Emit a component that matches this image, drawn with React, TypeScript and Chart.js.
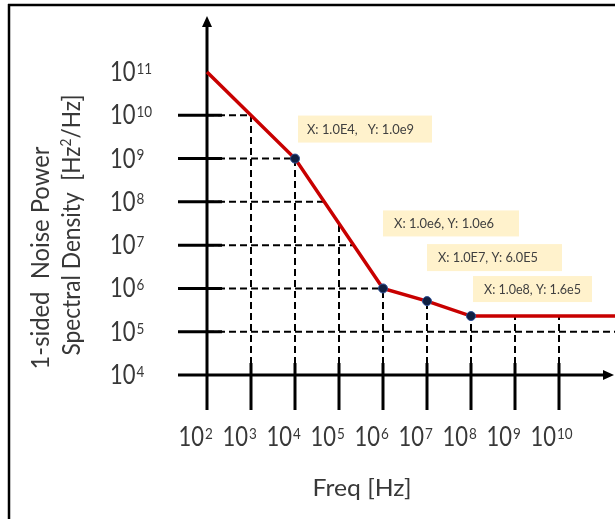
import React, { useEffect, useRef } from "react";
import { Chart, registerables } from "chart.js";

Chart.register(...registerables);

// ---------- data ----------
const freqHz = [1e2, 1e4, 1e6, 1e7, 1e8, 1e12];
const noisePsd = [1e11, 1e9, 1e6, 5.1e5, 2.3e5, 2.3e5];
const markerShown = [false, true, true, true, true, false];

const xTickExponents = [2, 3, 4, 5, 6, 7, 8, 9, 10];
const yTickExponents = [4, 5, 6, 7, 8, 9, 10, 11];
const xGridExponents = [3, 4, 5, 6, 7, 8, 9, 10];
const yGridExponents = [5, 6, 7, 8, 9, 10];

const annotationTexts = [
  "X: 1.0E4,   Y: 1.0e9",
  "X: 1.0e6, Y: 1.0e6",
  "X: 1.0E7, Y: 6.0E5",
  "X: 1.0e8, Y: 1.6e5",
];
const annotationPointIndex = [1, 2, 3, 4];

const yTitleLine1 = "1-sided  Noise Power";
const yTitleLine2Pre = "Spectral Density  [Hz";
const yTitleLine2Sup = "2";
const yTitleLine2Post = "/Hz]";
const xTitle = "Freq [Hz]";

// ---------- layout / style (pixels) ----------
const W = 615;
const H = 519;
const FONT = "Lato, 'Open Sans', sans-serif";
const TEXT_COLOR = "#383838";
const ANN_BOX = [
  { dx: 3, dy: -43, w: 134, h: 27, pad: 9, tw: 107 },
  { dx: 0, dy: -78, w: 136, h: 26, pad: 11, tw: 100 },
  { dx: 0, dy: -57, w: 135, h: 27, pad: 11, tw: 100 },
  { dx: 2, dy: -40, w: 119, h: 26, pad: 11, tw: 97 },
];

const lg = Math.log10;

function curveAt(x: number): number {
  const lx = lg(x);
  for (let i = 0; i < freqHz.length - 1; i++) {
    const a = lg(freqHz[i]);
    const b = lg(freqHz[i + 1]);
    if (lx >= a && lx <= b) {
      const t = (lx - a) / (b - a);
      return Math.pow(10, lg(noisePsd[i]) + t * (lg(noisePsd[i + 1]) - lg(noisePsd[i])));
    }
  }
  return noisePsd[noisePsd.length - 1];
}

function curveCross(y: number): number | null {
  const ly = lg(y);
  for (let i = 0; i < freqHz.length - 1; i++) {
    const a = lg(noisePsd[i]);
    const b = lg(noisePsd[i + 1]);
    if (a === b) continue;
    if ((ly <= a && ly >= b) || (ly >= a && ly <= b)) {
      const t = (ly - a) / (b - a);
      return Math.pow(10, lg(freqHz[i]) + t * (lg(freqHz[i + 1]) - lg(freqHz[i])));
    }
  }
  return null;
}

function line(ctx: CanvasRenderingContext2D, x1: number, y1: number, x2: number, y2: number) {
  ctx.beginPath();
  ctx.moveTo(x1, y1);
  ctx.lineTo(x2, y2);
  ctx.stroke();
}

function powerLabel(
  ctx: CanvasRenderingContext2D,
  exp: number,
  x: number,
  baseline: number,
  anchor: "left" | "right"
) {
  const sy = 1.2;
  ctx.save();
  ctx.fillStyle = TEXT_COLOR;
  ctx.font = `22px ${FONT}`;
  const w10 = ctx.measureText("10").width;
  const left = anchor === "left" ? x : x - w10;
  ctx.translate(left, baseline);
  ctx.scale(1, sy);
  ctx.textAlign = "left";
  ctx.textBaseline = "alphabetic";
  ctx.fillText("10", 0, 0);
  ctx.font = `13.5px ${FONT}`;
  ctx.fillText(String(exp), w10 + 1, -6);
  ctx.restore();
}

type Seg = { t: string; size: number; rise: number };

function richText(
  ctx: CanvasRenderingContext2D,
  segs: Seg[],
  cx: number,
  cy: number,
  rotate: boolean,
  targetLen: number
) {
  ctx.save();
  ctx.fillStyle = TEXT_COLOR;
  ctx.textAlign = "left";
  ctx.textBaseline = "alphabetic";
  let total = 0;
  const widths = segs.map((s) => {
    ctx.font = `${s.size}px ${FONT}`;
    const w = ctx.measureText(s.t).width;
    total += w;
    return w;
  });
  ctx.translate(cx, cy);
  if (rotate) ctx.rotate(-Math.PI / 2);
  const k = targetLen / total;
  ctx.scale(k, 1);
  let pos = -total / 2;
  segs.forEach((s, i) => {
    ctx.font = `${s.size}px ${FONT}`;
    ctx.fillText(s.t, pos, -s.rise);
    pos += widths[i];
  });
  ctx.restore();
}

const schematic = {
  id: "schematic",
  beforeDatasetsDraw(chart: any) {
    const ctx: CanvasRenderingContext2D = chart.ctx;
    const xs = chart.scales.x;
    const ys = chart.scales.y;
    const X = (v: number) => xs.getPixelForValue(v);
    const Y = (v: number) => ys.getPixelForValue(v);
    const x0 = X(xs.min);
    const y0 = Y(ys.min);

    ctx.save();
    ctx.strokeStyle = "#000";
    ctx.lineCap = "butt";

    // dashed guide lines
    ctx.lineWidth = 2;
    ctx.setLineDash([7, 4]);
    xGridExponents.forEach((e) => {
      const v = Math.pow(10, e);
      const px = X(v);
      const top = Y(curveAt(v));
      line(ctx, px, y0, px, top);
    });
    yGridExponents.forEach((e) => {
      const v = Math.pow(10, e);
      const py = Y(v);
      const c = curveCross(v);
      const end = c === null ? chart.width : X(c);
      line(ctx, x0, py, end, py);
    });
    ctx.setLineDash([]);

    // solid ticks
    ctx.lineWidth = 3;
    yGridExponents.forEach((e) => {
      const py = Y(Math.pow(10, e));
      line(ctx, x0 - 29, py, x0 + 15, py);
    });
    xGridExponents.forEach((e) => {
      const px = X(Math.pow(10, e));
      line(ctx, px, y0 + 35, px, y0 - 12);
    });

    // axes with arrows
    line(ctx, x0, y0 + 35, x0, 25);
    line(ctx, x0 - 29, y0, W - 8, y0);
    ctx.fillStyle = "#000";
    ctx.beginPath();
    ctx.moveTo(x0, 16);
    ctx.lineTo(x0 - 5, 27);
    ctx.lineTo(x0 + 5, 27);
    ctx.closePath();
    ctx.fill();
    ctx.beginPath();
    ctx.moveTo(W - 1, y0);
    ctx.lineTo(W - 12, y0 - 5);
    ctx.lineTo(W - 12, y0 + 5);
    ctx.closePath();
    ctx.fill();
    ctx.restore();
  },
  afterDraw(chart: any) {
    const ctx: CanvasRenderingContext2D = chart.ctx;
    const xs = chart.scales.x;
    const ys = chart.scales.y;
    const X = (v: number) => xs.getPixelForValue(v);
    const Y = (v: number) => ys.getPixelForValue(v);

    // tick labels
    yTickExponents.forEach((e) => {
      const py = Y(Math.pow(10, e));
      powerLabel(ctx, e, 110, py + 9, "left");
    });
    xTickExponents.forEach((e) => {
      const px = X(Math.pow(10, e));
      powerLabel(ctx, e, px - 3, 446, "right");
    });

    // axis titles
    richText(ctx, [{ t: yTitleLine1, size: 25, rise: 0 }], 49, 258, true, 223);
    richText(
      ctx,
      [
        { t: yTitleLine2Pre, size: 25, rise: 0 },
        { t: yTitleLine2Sup, size: 15, rise: 9 },
        { t: yTitleLine2Post, size: 25, rise: 0 },
      ],
      80,
      225,
      true,
      261
    );
    richText(ctx, [{ t: xTitle, size: 24, rise: 0 }], 362, 496, false, 99);

    // annotations
    annotationTexts.forEach((txt, i) => {
      const idx = annotationPointIndex[i];
      const b = ANN_BOX[i];
      const px = X(freqHz[idx]);
      const py = Y(noisePsd[idx]);
      const left = px + b.dx;
      const top = py + b.dy;
      ctx.save();
      ctx.fillStyle = "#FFF2CC";
      ctx.fillRect(left, top, b.w, b.h);
      ctx.fillStyle = "#404040";
      ctx.font = `12px ${FONT}`;
      const mw = ctx.measureText(txt).width;
      ctx.translate(left + b.pad, top + b.h / 2 + 4.5);
      ctx.scale(b.tw / mw, 1.05);
      ctx.textBaseline = "alphabetic";
      ctx.fillText(txt, 0, 0);
      ctx.restore();
    });

    // frame
    ctx.save();
    ctx.strokeStyle = "#000";
    ctx.lineWidth = 2.5;
    line(ctx, 8, 5, W, 5);
    line(ctx, 9, 4, 9, H);
    ctx.restore();
  },
};

export default function App() {
  const ref = useRef<HTMLCanvasElement | null>(null);

  useEffect(() => {
    if (!ref.current) return;
    const chart = new Chart(ref.current, {
      type: "line",
      data: {
        datasets: [
          {
            data: freqHz.map((f, i) => ({ x: f, y: noisePsd[i] })),
            borderColor: "#C80000",
            borderWidth: 3.5,
            tension: 0,
            clip: false as any,
            pointRadius: markerShown.map((m) => (m ? 4.5 : 0)),
            pointBackgroundColor: "#102042",
            pointBorderColor: "#2f4f95",
            pointBorderWidth: 1,
            pointHoverRadius: markerShown.map((m) => (m ? 4.5 : 0)),
          },
        ],
      },
      options: {
        animation: false,
        responsive: false,
        maintainAspectRatio: false,
        devicePixelRatio: 1,
        events: [],
        layout: { padding: { left: 207, right: 56, top: 72, bottom: 144 } },
        plugins: { legend: { display: false }, tooltip: { enabled: false }, title: { display: false } },
        scales: {
          x: { type: "logarithmic", min: 1e2, max: 1e10, display: false },
          y: { type: "logarithmic", min: 1e4, max: 1e11, display: false },
        },
      },
      plugins: [schematic],
    });
    return () => chart.destroy();
  }, []);

  return (
    <div style={{ position: "fixed", left: 0, top: 0, width: W, height: H, background: "#fff" }}>
      <canvas ref={ref} width={W} height={H} style={{ display: "block" }} />
    </div>
  );
}
